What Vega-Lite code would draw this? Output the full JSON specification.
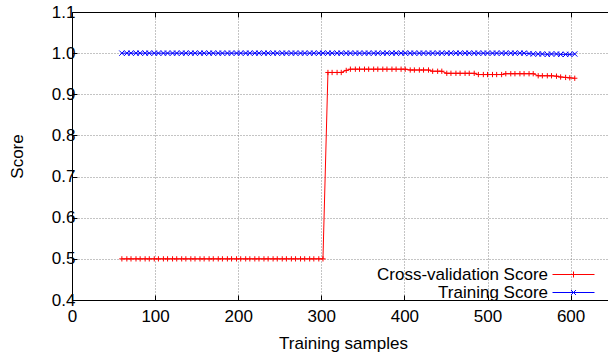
{
  "$schema": "https://vega.github.io/schema/vega-lite/v6.json",
  "width": 536,
  "height": 288,
  "autosize": {"type": "none"},
  "padding": {"left": 72, "top": 12, "right": 0, "bottom": 56},
  "background": "white",
  "config": {
    "view": {"stroke": null},
    "font": "Liberation Sans",
    "axis": {
      "labelFont": "Liberation Sans",
      "labelFontSize": 17,
      "labelColor": "black",
      "labelFlush": false,
      "titleFont": "Liberation Sans",
      "titleFontSize": 17,
      "titleFontWeight": "normal",
      "titleColor": "black",
      "domainColor": "black",
      "domainWidth": 1,
      "tickColor": "black",
      "tickSize": -5,
      "gridColor": "#888888",
      "gridDash": [1, 2],
      "gridWidth": 1,
      "gridOpacity": 1
    },
    "legend": {
      "labelFont": "Liberation Sans",
      "labelFontSize": 17,
      "labelColor": "black",
      "labelLimit": 400
    }
  },
  "data": {
    "values": [
      {"n": 60, "Cross-validation Score": 0.5, "Training Score": 1.0},
      {"n": 66, "Cross-validation Score": 0.5, "Training Score": 1.0},
      {"n": 71, "Cross-validation Score": 0.5, "Training Score": 1.0},
      {"n": 77, "Cross-validation Score": 0.5, "Training Score": 1.0},
      {"n": 82, "Cross-validation Score": 0.5, "Training Score": 1.0},
      {"n": 88, "Cross-validation Score": 0.5, "Training Score": 1.0},
      {"n": 93, "Cross-validation Score": 0.5, "Training Score": 1.0},
      {"n": 99, "Cross-validation Score": 0.5, "Training Score": 1.0},
      {"n": 104, "Cross-validation Score": 0.5, "Training Score": 1.0},
      {"n": 110, "Cross-validation Score": 0.5, "Training Score": 1.0},
      {"n": 115, "Cross-validation Score": 0.5, "Training Score": 1.0},
      {"n": 121, "Cross-validation Score": 0.5, "Training Score": 1.0},
      {"n": 126, "Cross-validation Score": 0.5, "Training Score": 1.0},
      {"n": 132, "Cross-validation Score": 0.5, "Training Score": 1.0},
      {"n": 137, "Cross-validation Score": 0.5, "Training Score": 1.0},
      {"n": 143, "Cross-validation Score": 0.5, "Training Score": 1.0},
      {"n": 148, "Cross-validation Score": 0.5, "Training Score": 1.0},
      {"n": 154, "Cross-validation Score": 0.5, "Training Score": 1.0},
      {"n": 159, "Cross-validation Score": 0.5, "Training Score": 1.0},
      {"n": 165, "Cross-validation Score": 0.5, "Training Score": 1.0},
      {"n": 170, "Cross-validation Score": 0.5, "Training Score": 1.0},
      {"n": 176, "Cross-validation Score": 0.5, "Training Score": 1.0},
      {"n": 181, "Cross-validation Score": 0.5, "Training Score": 1.0},
      {"n": 187, "Cross-validation Score": 0.5, "Training Score": 1.0},
      {"n": 192, "Cross-validation Score": 0.5, "Training Score": 1.0},
      {"n": 198, "Cross-validation Score": 0.5, "Training Score": 1.0},
      {"n": 203, "Cross-validation Score": 0.5, "Training Score": 1.0},
      {"n": 209, "Cross-validation Score": 0.5, "Training Score": 1.0},
      {"n": 214, "Cross-validation Score": 0.5, "Training Score": 1.0},
      {"n": 220, "Cross-validation Score": 0.5, "Training Score": 1.0},
      {"n": 225, "Cross-validation Score": 0.5, "Training Score": 1.0},
      {"n": 231, "Cross-validation Score": 0.5, "Training Score": 1.0},
      {"n": 236, "Cross-validation Score": 0.5, "Training Score": 1.0},
      {"n": 242, "Cross-validation Score": 0.5, "Training Score": 1.0},
      {"n": 247, "Cross-validation Score": 0.5, "Training Score": 1.0},
      {"n": 253, "Cross-validation Score": 0.5, "Training Score": 1.0},
      {"n": 258, "Cross-validation Score": 0.5, "Training Score": 1.0},
      {"n": 264, "Cross-validation Score": 0.5, "Training Score": 1.0},
      {"n": 269, "Cross-validation Score": 0.5, "Training Score": 1.0},
      {"n": 275, "Cross-validation Score": 0.5, "Training Score": 1.0},
      {"n": 280, "Cross-validation Score": 0.5, "Training Score": 1.0},
      {"n": 286, "Cross-validation Score": 0.5, "Training Score": 1.0},
      {"n": 291, "Cross-validation Score": 0.5, "Training Score": 1.0},
      {"n": 297, "Cross-validation Score": 0.5, "Training Score": 1.0},
      {"n": 302, "Cross-validation Score": 0.5, "Training Score": 1.0},
      {"n": 308, "Cross-validation Score": 0.953, "Training Score": 1.0},
      {"n": 313, "Cross-validation Score": 0.953, "Training Score": 1.0},
      {"n": 319, "Cross-validation Score": 0.953, "Training Score": 1.0},
      {"n": 324, "Cross-validation Score": 0.953, "Training Score": 1.0},
      {"n": 330, "Cross-validation Score": 0.958, "Training Score": 1.0},
      {"n": 335, "Cross-validation Score": 0.961, "Training Score": 1.0},
      {"n": 341, "Cross-validation Score": 0.961, "Training Score": 1.0},
      {"n": 346, "Cross-validation Score": 0.961, "Training Score": 1.0},
      {"n": 352, "Cross-validation Score": 0.961, "Training Score": 1.0},
      {"n": 357, "Cross-validation Score": 0.961, "Training Score": 1.0},
      {"n": 363, "Cross-validation Score": 0.961, "Training Score": 1.0},
      {"n": 368, "Cross-validation Score": 0.961, "Training Score": 1.0},
      {"n": 374, "Cross-validation Score": 0.961, "Training Score": 1.0},
      {"n": 379, "Cross-validation Score": 0.961, "Training Score": 1.0},
      {"n": 385, "Cross-validation Score": 0.961, "Training Score": 1.0},
      {"n": 390, "Cross-validation Score": 0.961, "Training Score": 1.0},
      {"n": 396, "Cross-validation Score": 0.961, "Training Score": 1.0},
      {"n": 401, "Cross-validation Score": 0.961, "Training Score": 1.0},
      {"n": 407, "Cross-validation Score": 0.959, "Training Score": 1.0},
      {"n": 412, "Cross-validation Score": 0.959, "Training Score": 1.0},
      {"n": 418, "Cross-validation Score": 0.959, "Training Score": 1.0},
      {"n": 423, "Cross-validation Score": 0.959, "Training Score": 1.0},
      {"n": 429, "Cross-validation Score": 0.959, "Training Score": 1.0},
      {"n": 434, "Cross-validation Score": 0.956, "Training Score": 1.0},
      {"n": 440, "Cross-validation Score": 0.956, "Training Score": 1.0},
      {"n": 445, "Cross-validation Score": 0.956, "Training Score": 1.0},
      {"n": 451, "Cross-validation Score": 0.951, "Training Score": 1.0},
      {"n": 456, "Cross-validation Score": 0.951, "Training Score": 1.0},
      {"n": 462, "Cross-validation Score": 0.951, "Training Score": 1.0},
      {"n": 467, "Cross-validation Score": 0.951, "Training Score": 1.0},
      {"n": 473, "Cross-validation Score": 0.951, "Training Score": 1.0},
      {"n": 478, "Cross-validation Score": 0.951, "Training Score": 1.0},
      {"n": 484, "Cross-validation Score": 0.951, "Training Score": 1.0},
      {"n": 489, "Cross-validation Score": 0.948, "Training Score": 1.0},
      {"n": 495, "Cross-validation Score": 0.948, "Training Score": 1.0},
      {"n": 500, "Cross-validation Score": 0.948, "Training Score": 1.0},
      {"n": 506, "Cross-validation Score": 0.948, "Training Score": 1.0},
      {"n": 511, "Cross-validation Score": 0.948, "Training Score": 1.0},
      {"n": 517, "Cross-validation Score": 0.948, "Training Score": 1.0},
      {"n": 522, "Cross-validation Score": 0.95, "Training Score": 1.0},
      {"n": 528, "Cross-validation Score": 0.95, "Training Score": 1.0},
      {"n": 533, "Cross-validation Score": 0.95, "Training Score": 1.0},
      {"n": 539, "Cross-validation Score": 0.95, "Training Score": 1.0},
      {"n": 544, "Cross-validation Score": 0.95, "Training Score": 1.0},
      {"n": 550, "Cross-validation Score": 0.95, "Training Score": 0.999},
      {"n": 555, "Cross-validation Score": 0.95, "Training Score": 0.998},
      {"n": 561, "Cross-validation Score": 0.945, "Training Score": 0.998},
      {"n": 566, "Cross-validation Score": 0.945, "Training Score": 0.998},
      {"n": 572, "Cross-validation Score": 0.945, "Training Score": 0.997},
      {"n": 577, "Cross-validation Score": 0.945, "Training Score": 0.998},
      {"n": 583, "Cross-validation Score": 0.944, "Training Score": 0.998},
      {"n": 588, "Cross-validation Score": 0.942, "Training Score": 0.997},
      {"n": 594, "Cross-validation Score": 0.941, "Training Score": 0.997},
      {"n": 599, "Cross-validation Score": 0.94, "Training Score": 0.997},
      {"n": 605, "Cross-validation Score": 0.939, "Training Score": 0.998}
    ]
  },
  "transform": [
    {"fold": ["Cross-validation Score", "Training Score"], "as": ["series", "score"]}
  ],
  "layer": [
    {
      "mark": {"type": "line", "strokeWidth": 1},
      "encoding": {
        "x": {
          "field": "n",
          "type": "quantitative",
          "scale": {"domain": [0, 645], "nice": false, "zero": false},
          "axis": {
            "orient": "bottom",
            "title": "Training samples",
            "values": [0, 100, 200, 300, 400, 500, 600],
            "grid": true,
            "labelPadding": 13,
            "titleX": 271,
            "titleY": 43,
            "titleBaseline": "middle",
            "titleAnchor": null
          }
        },
        "y": {
          "field": "score",
          "type": "quantitative",
          "scale": {"domain": [0.4, 1.1], "nice": false, "zero": false},
          "axis": {
            "title": "Score",
            "values": [0.4, 0.5, 0.6, 0.7, 0.8, 0.9, 1.0, 1.1],
            "format": ".1f",
            "grid": true,
            "labelPadding": 2,
            "titleAngle": -90,
            "titleX": -55,
            "titleY": 144,
            "titleBaseline": "middle",
            "titleAlign": "center",
            "titleAnchor": null
          }
        },
        "color": {
          "field": "series",
          "type": "nominal",
          "scale": {"domain": ["Cross-validation Score", "Training Score"], "range": ["#ff0000", "#0000ff"]},
          "legend": {
            "title": null,
            "orient": "none",
            "legendX": 493,
            "legendY": 254,
            "padding": 0,
            "symbolSize": 225,
            "symbolStrokeWidth": 1,
            "symbolType": "M-2.8,0H2.8",
            "labelAlign": "right",
            "labelOffset": -34,
            "rowPadding": 0,
            "encode": {
              "symbols": {
                "update": {
                  "shape": {"signal": "datum.value === 'Training Score' ? 'M-2.8,0H2.8M-0.33,-0.33L0.33,0.33M-0.33,0.33L0.33,-0.33' : 'M-2.8,0H2.8M0,-0.4V0.4'"},
                  "stroke": {"signal": "datum.value === 'Training Score' ? '#0000ff' : '#ff0000'"},
                  "fill": {"value": "transparent"},
                  "strokeWidth": {"value": 1},
                  "opacity": {"value": 1},
                  "strokeOpacity": {"value": 1}
                }
              }
            }
          }
        }
      }
    },
    {
      "transform": [{"filter": "datum.series === 'Cross-validation Score'"}],
      "mark": {"type": "point", "filled": false, "strokeWidth": 1, "size": 28, "opacity": 1, "shape": "M-1,0L1,0M0,-1L0,1"},
      "encoding": {
        "x": {
          "field": "n",
          "type": "quantitative",
          "axis": {"orient": "top", "labels": false, "title": null, "grid": false, "values": [0, 100, 200, 300, 400, 500, 600]}
        },
        "y": {"field": "score", "type": "quantitative"},
        "color": {"field": "series", "type": "nominal"}
      }
    },
    {
      "transform": [{"filter": "datum.series === 'Training Score'"}],
      "mark": {"type": "point", "filled": false, "strokeWidth": 1, "size": 28, "opacity": 1, "shape": "M-1,-1L1,1M-1,1L1,-1"},
      "encoding": {
        "x": {"field": "n", "type": "quantitative", "axis": null},
        "y": {"field": "score", "type": "quantitative"},
        "color": {"field": "series", "type": "nominal"}
      }
    }
  ],
  "resolve": {"axis": {"x": "independent"}}
}
